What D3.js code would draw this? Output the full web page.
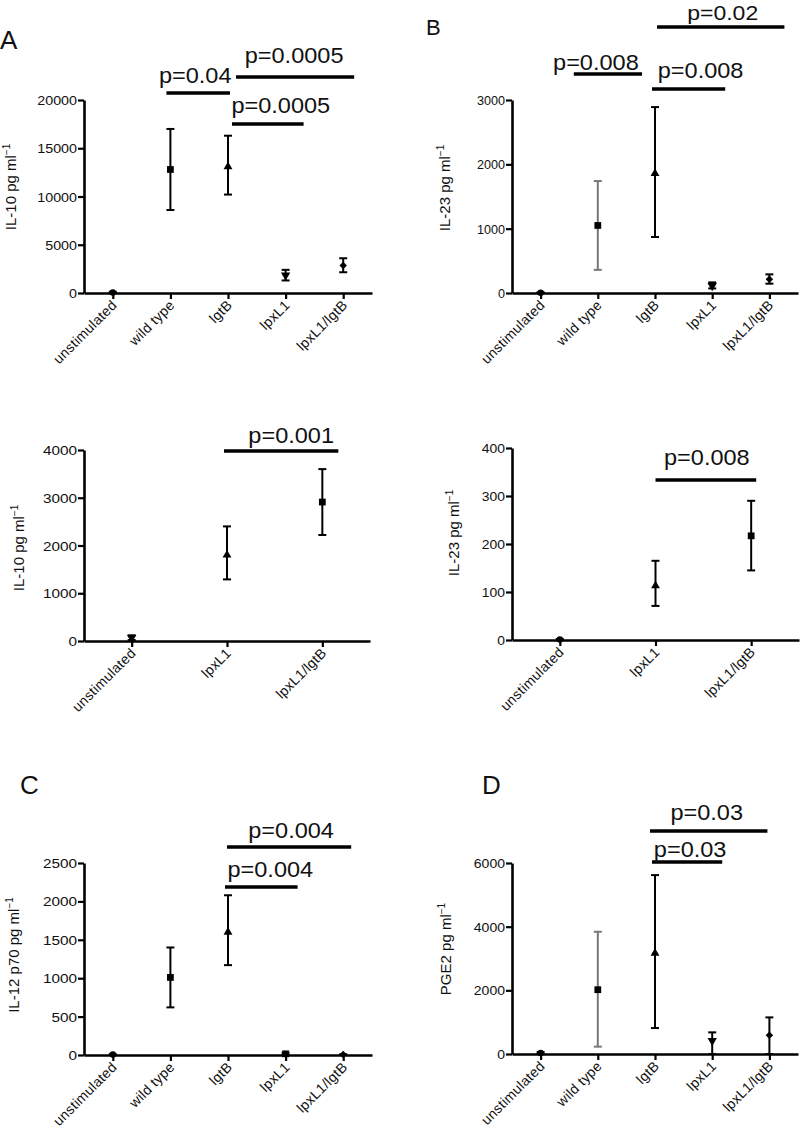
<!DOCTYPE html>
<html>
<head>
<meta charset="utf-8">
<script src="https://cdn.jsdelivr.net/npm/d3@7"></script>
<style>
  html, body { margin: 0; padding: 0; background: #fff; }
  svg { display: block; }
</style>
</head>
<body>
<svg id="chart" width="800" height="1132"></svg>
<script>
// ---------------- DATA ----------------
const catsFive = ["unstimulated", "wild type", "lgtB", "lpxL1", "lpxL1/lgtB"];
const catsThree = ["unstimulated", "lpxL1", "lpxL1/lgtB"];

// Panel A (top): IL-10
const il10Mean = [50, 12800, 13100, 1850, 2850];
const il10Low  = [0, 8600, 10200, 1300, 2150];
const il10High = [120, 17000, 16300, 2400, 3600];
const il10Ticks = [0, 5000, 10000, 15000, 20000];
const il10Sig = [
  { from: "wild type", to: "lgtB", label: "p=0.04" },
  { from: "lgtB", to: "lpxL1/lgtB", label: "p=0.0005" },
  { from: "lgtB", to: "lpxL1", label: "p=0.0005" }
];

// Panel B (top): IL-23
const il23Mean = [5, 1050, 1860, 113, 215];
const il23Low  = [0, 360, 870, 71, 145];
const il23High = [10, 1740, 2890, 165, 290];
const il23Ticks = [0, 1000, 2000, 3000];
const il23Sig = [
  { from: "wild type", to: "lgtB", label: "p=0.008" },
  { from: "lgtB", to: "lpxL1", label: "p=0.008" },
  { from: "lgtB", to: "lpxL1/lgtB", label: "p=0.02" }
];

// Panel A (middle): IL-10, lpxL1 comparison
const il10bMean = [70, 1800, 2910];
const il10bLow  = [20, 1290, 2220];
const il10bHigh = [120, 2400, 3600];
const il10bTicks = [0, 1000, 2000, 3000, 4000];
const il10bSig = [{ from: "lpxL1", to: "lpxL1/lgtB", label: "p=0.001" }];

// Panel B (middle): IL-23, lpxL1 comparison
const il23bMean = [1, 113, 217];
const il23bLow  = [0, 71, 145];
const il23bHigh = [2, 165, 290];
const il23bTicks = [0, 100, 200, 300, 400];
const il23bSig = [{ from: "lpxL1", to: "lpxL1/lgtB", label: "p=0.008" }];

// Panel C: IL-12 p70
const il12Mean = [5, 1010, 1600, 15, 5];
const il12Low  = [0, 620, 1170, 0, 0];
const il12High = [10, 1400, 2080, 30, 10];
const il12Ticks = [0, 500, 1000, 1500, 2000, 2500];
const il12Sig = [
  { from: "lgtB", to: "lpxL1/lgtB", label: "p=0.004" },
  { from: "lgtB", to: "lpxL1", label: "p=0.004" }
];

// Panel D: PGE2
const pge2Mean = [30, 2020, 3170, 420, 590];
const pge2Low  = [0, 230, 815, 0, 0];
const pge2High = [60, 3840, 5620, 680, 1150];
const pge2Ticks = [0, 2000, 4000, 6000];
const pge2Sig = [
  { from: "lgtB", to: "lpxL1/lgtB", label: "p=0.03" },
  { from: "lgtB", to: "lpxL1", label: "p=0.03" }
];

// ---------------- LAYOUT / STYLE ----------------
const FONT = "'Liberation Sans', Arial, Helvetica, sans-serif";
const svg = d3.select("#chart");

const panels = [
  { letter: "A", letterPos: [0, 49], letterSize: 26,
    cats: catsFive, mean: il10Mean, low: il10Low, high: il10High, ticks: il10Ticks,
    ylabel: "IL-10 pg ml", ylabelPos: [16, 187],
    xr: [84, 372], yr: [293, 100], tickScale: 1.1,
    shapes: ["circle", "square", "tri", "triDown", "diamond"],
    barColors: ["#000", "#000", "#000", "#000", "#000"],
    sig: il10Sig,
    sigLayout: [ { dx1: -4, dx2: 2, y: 93, tdx: -3, ty: 83, fs: 22 },
                 { dx1: 8, dx2: 11, y: 77, tdx: -1, ty: 63, fs: 22 },
                 { dx1: 4, dx2: 18, y: 124, tdx: 13, ty: 113, fs: 22 } ] },
  { letter: "B", letterPos: [426, 35], letterSize: 22,
    cats: catsFive, mean: il23Mean, low: il23Low, high: il23High, ticks: il23Ticks,
    ylabel: "IL-23 pg ml", ylabelPos: [450, 188],
    xr: [512, 798], yr: [293, 100], tickScale: 0.97,
    shapes: ["circle", "square", "tri", "triDown", "diamond"],
    barColors: ["#000", "#777", "#000", "#000", "#000"],
    sig: il23Sig,
    sigLayout: [ { dx1: -24, dx2: -13, y: 74, tdx: -12, ty: 70, fs: 22 },
                 { dx1: -3, dx2: 13, y: 89, tdx: 12, ty: 78, fs: 22 },
                 { dx1: 2, dx2: 15, y: 27, tdx: 2, ty: 20, fs: 20 } ] },
  { letter: "", letterPos: [0, 0], letterSize: 26,
    cats: catsThree, mean: il10bMean, low: il10bLow, high: il10bHigh, ticks: il10bTicks,
    ylabel: "IL-10 pg ml", ylabelPos: [24, 548],
    xr: [84, 370], yr: [641, 450], tickScale: 1.18,
    shapes: ["triDown", "tri", "square"],
    barColors: ["#000", "#000", "#000"],
    sig: il10bSig,
    sigLayout: [ { dx1: -3, dx2: 16, y: 451, tdx: 10, ty: 443, fs: 22 } ] },
  { letter: "", letterPos: [0, 0], letterSize: 26,
    cats: catsThree, mean: il23bMean, low: il23bLow, high: il23bHigh, ticks: il23bTicks,
    ylabel: "IL-23 pg ml", ylabelPos: [459, 533],
    xr: [512, 799], yr: [640, 448], tickScale: 1.07,
    shapes: ["circle", "tri", "square"],
    barColors: ["#000", "#000", "#000"],
    sig: il23bSig,
    sigLayout: [ { dx1: 0, dx2: 5, y: 480, tdx: 1, ty: 465, fs: 22 } ] },
  { letter: "C", letterPos: [20, 794], letterSize: 26,
    cats: catsFive, mean: il12Mean, low: il12Low, high: il12High, ticks: il12Ticks,
    ylabel: "IL-12 p70 pg ml", ylabelPos: [19, 955],
    xr: [84, 372], yr: [1055, 863], tickScale: 1.18,
    shapes: ["circle", "square", "tri", "square", "diamond"],
    barColors: ["#000", "#000", "#000", "#000", "#000"],
    sig: il12Sig,
    sigLayout: [ { dx1: -1, dx2: 8, y: 847, tdx: 2, ty: 838, fs: 22 },
                 { dx1: -3, dx2: 12, y: 887, tdx: 9, ty: 877, fs: 22 } ] },
  { letter: "D", letterPos: [482, 794], letterSize: 26,
    cats: catsFive, mean: pge2Mean, low: pge2Low, high: pge2High, ticks: pge2Ticks,
    ylabel: "PGE2 pg ml", ylabelPos: [451, 949],
    xr: [512, 798], yr: [1054, 863], tickScale: 1.08,
    shapes: ["circle", "square", "tri", "triDown", "diamond"],
    barColors: ["#000", "#777", "#000", "#000", "#000"],
    sig: pge2Sig,
    sigLayout: [ { dx1: -5, dx2: -2, y: 831, tdx: -2, ty: 820, fs: 22 },
                 { dx1: -3, dx2: 10, y: 862, tdx: 3, ty: 857, fs: 22 } ] }
];

function symbolPath(shape) {
  switch (shape) {
    case "circle": return { d: d3.symbol(d3.symbolCircle, 34)(), rot: 0 };
    case "square": return { d: d3.symbol(d3.symbolSquare, 46)(), rot: 0 };
    case "tri": return { d: d3.symbol(d3.symbolTriangle, 34)(), rot: 0 };
    case "triDown": return { d: d3.symbol(d3.symbolTriangle, 38)(), rot: 180 };
    case "diamond": return { d: d3.symbol(d3.symbolSquare, 28)(), rot: 45 };
  }
}

const C45 = Math.SQRT1_2;

panels.forEach(p => {
  const g = svg.append("g");
  const x = d3.scalePoint().domain(p.cats).range(p.xr).padding(0.5);
  const y = d3.scaleLinear().domain([0, p.ticks[p.ticks.length - 1]]).range(p.yr);
  const axX = p.xr[0];
  const axY = p.yr[0];

  // Y axis
  const yAxis = g.append("g")
    .attr("transform", `translate(${axX},0)`)
    .call(d3.axisLeft(y).tickValues(p.ticks).tickSize(6).tickSizeOuter(0).tickFormat(d3.format("d")));
  yAxis.select(".domain").attr("stroke", "#000").attr("stroke-width", 2.6);
  yAxis.selectAll(".tick line").attr("stroke", "#000").attr("stroke-width", 2.2);
  yAxis.selectAll(".tick text")
    .attr("x", 0).attr("dy", "0.35em")
    .attr("transform", `translate(-7,0) scale(${p.tickScale},1)`)
    .style("font-family", FONT).style("font-size", "13px").attr("fill", "#111");

  // X axis
  const xAxis = g.append("g")
    .attr("transform", `translate(0,${axY})`)
    .call(d3.axisBottom(x).tickSize(6).tickSizeOuter(0));
  xAxis.select(".domain").attr("stroke", "#000").attr("stroke-width", 2.6);
  xAxis.selectAll(".tick line").attr("stroke", "#000").attr("stroke-width", 2.2);
  xAxis.selectAll(".tick text").remove();

  // rotated category labels (45 degrees, rising to the right)
  p.cats.forEach(c => {
    const tx = x(c) + 5, ty = axY + 13;
    g.append("text")
      .attr("text-anchor", "end")
      .attr("x", 0).attr("y", 0)
      .attr("transform", `matrix(${C45},${-C45},${C45},${C45},${tx},${ty})`)
      .style("font-family", FONT).style("font-size", "14px")
      .style("letter-spacing", "0.3px")
      .attr("fill", "#111")
      .text(c);
  });

  // Error bars & markers
  p.cats.forEach((c, i) => {
    const cx = x(c);
    const col = p.barColors[i];
    const capW = 4;
    g.append("line").attr("x1", cx).attr("x2", cx)
      .attr("y1", y(p.low[i])).attr("y2", y(p.high[i]))
      .attr("stroke", col).attr("stroke-width", 2);
    [p.low[i], p.high[i]].forEach(v => {
      g.append("line").attr("x1", cx - capW).attr("x2", cx + capW)
        .attr("y1", y(v)).attr("y2", y(v))
        .attr("stroke", col).attr("stroke-width", 2);
    });
    const s = symbolPath(p.shapes[i]);
    g.append("path").attr("d", s.d)
      .attr("transform", `translate(${cx},${y(p.mean[i])}) rotate(${s.rot})`)
      .attr("fill", "#000");
  });

  // Significance bars
  p.sig.forEach((s, k) => {
    const L = p.sigLayout[k];
    const x1 = x(s.from) + L.dx1, x2 = x(s.to) + L.dx2;
    g.append("line").attr("x1", x1).attr("x2", x2).attr("y1", L.y).attr("y2", L.y)
      .attr("stroke", "#000").attr("stroke-width", 3.6);
    g.append("text")
      .attr("text-anchor", "middle")
      .attr("transform", `translate(${(x1 + x2) / 2 + L.tdx},${L.ty}) scale(${L.fs === 22 ? 1.07 : 1.15},1)`)
      .style("font-family", FONT).style("font-size", L.fs + "px").attr("fill", "#111")
      .text(s.label);
  });

  // Y label
  const yl = g.append("text")
    .attr("text-anchor", "middle")
    .attr("transform", `translate(${p.ylabelPos[0]},${p.ylabelPos[1]}) rotate(-90)`)
    .style("font-family", FONT).style("font-size", "15px").attr("fill", "#111");
  yl.append("tspan").text(p.ylabel);
  yl.append("tspan").attr("dy", -6).style("font-size", "10px").text("\u22121");

  // Panel letter
  if (p.letter) {
    svg.append("text").attr("x", p.letterPos[0]).attr("y", p.letterPos[1])
      .style("font-family", FONT).style("font-size", p.letterSize + "px").attr("fill", "#111")
      .text(p.letter);
  }
});
</script>
</body>
</html>
